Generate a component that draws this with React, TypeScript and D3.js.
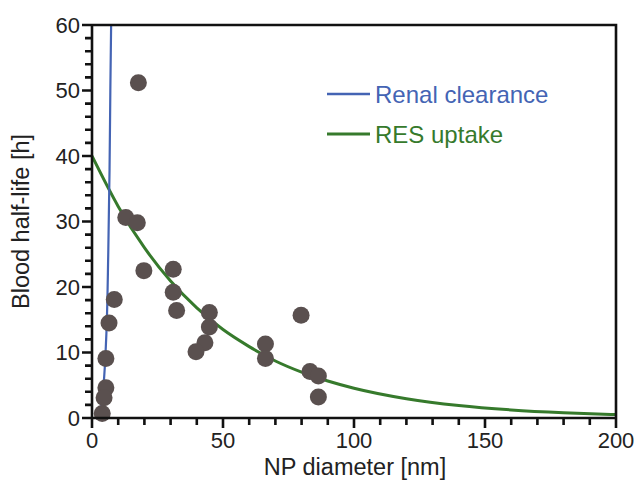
import React from "react";
import * as d3 from "d3";

const diameters = [17.7, 12.9, 17.3, 19.8, 31.0, 31.0, 32.3, 44.8, 44.8, 43.1, 39.7, 66.2, 66.2, 79.8, 83.2, 86.4, 86.4, 8.5, 6.5, 5.3, 5.3, 4.6, 3.9];
const halfLives = [51.2, 30.6, 29.8, 22.5, 22.7, 19.2, 16.4, 16.1, 13.9, 11.5, 10.1, 11.3, 9.1, 15.7, 7.1, 6.4, 3.2, 18.1, 14.5, 9.1, 4.6, 3.1, 0.7];

const resX = [0, 10, 20, 30, 40, 50, 60, 70, 80, 90, 100, 120, 140, 160, 180, 200];
const resY = [40, 32.3, 26.0, 20.9, 16.8, 13.5, 10.9, 8.7, 7.0, 5.65, 4.55, 2.95, 1.9, 1.23, 0.8, 0.52];

const renalX = [3.0, 4.4, 5.4, 6.2, 6.7, 7.0, 7.3];
const renalY = [0, 5, 12, 25, 38, 50, 60];

const xTicks = [0, 50, 100, 150, 200];
const yTicks = [0, 10, 20, 30, 40, 50, 60];
const legendLabels = ["Renal clearance", "RES uptake"];

const W = 637, H = 481;
const L = 92, R = 616, T = 25, B = 418;
const BLUE = "#4464b4";
const GREEN = "#367a2c";
const DOT = "#5a504f";
const FONT = "'Liberation Sans', Arial, sans-serif";

export default function App() {
  const x = d3.scaleLinear().domain([0, 200]).range([L, R]);
  const y = d3.scaleLinear().domain([0, 60]).range([B, T]);
  const line = d3.line<[number, number]>().x(d => x(d[0])).y(d => y(d[1])).curve(d3.curveMonotoneX);
  const renalLine = d3.line<[number, number]>().x(d => x(d[0])).y(d => y(d[1])).curve(d3.curveMonotoneY);
  const resPts: [number, number][] = resX.map((v, i) => [v, resY[i]]);
  const renalPts: [number, number][] = renalX.map((v, i) => [v, renalY[i]]);
  const xMinor = d3.range(0, 201, 10);
  const yMinor = d3.range(0, 61, 2);

  // frame and ticks in one path
  const p = d3.path();
  p.moveTo(L, T); p.lineTo(R, T); p.lineTo(R, B); p.lineTo(L, B); p.closePath();
  yMinor.forEach(v => { p.moveTo(L, y(v)); p.lineTo(L - (v % 10 === 0 ? 10 : 7), y(v)); });
  xMinor.forEach(v => { p.moveTo(x(v), B); p.lineTo(x(v), B + (v % 50 === 0 ? 10 : 7)); });

  return (
    <svg width={W} height={H} style={{ position: "absolute", left: 0, top: 0, background: "#fff" }} fontFamily={FONT}>
      <defs>
        <clipPath id="plot">
          <rect x={L} y={T} width={R - L} height={B - T} />
        </clipPath>
      </defs>
      <g clipPath="url(#plot)">
        <path d={line(resPts) || ""} fill="none" stroke={GREEN} strokeWidth={3} />
        <path d={renalLine(renalPts) || ""} fill="none" stroke={BLUE} strokeWidth={2.2} />
      </g>
      {diameters.map((d, i) => (
        <circle key={i} cx={x(d)} cy={y(halfLives[i])} r={8.5} fill={DOT} />
      ))}
      <path d={p.toString()} fill="none" stroke="#111" strokeWidth={2.6} />
      {yTicks.map(v => (
        <text key={"yt" + v} x={L - 12} y={y(v)} dy="0.36em" textAnchor="end" fontSize={22} fill="#222">{v}</text>
      ))}
      {xTicks.map(v => (
        <text key={"xt" + v} x={x(v)} y={448} textAnchor="middle" fontSize={22} fill="#222">{v}</text>
      ))}
      <text x={355} y={475} textAnchor="middle" fontSize={23.5} fill="#222">NP diameter [nm]</text>
      <text transform={`translate(29,${(T + B) / 2}) rotate(-90)`} textAnchor="middle" fontSize={23.5} fill="#222">Blood half-life [h]</text>
      <line x1={327} x2={370} y1={94} y2={94} stroke={BLUE} strokeWidth={2.5} />
      <text x={375} y={94} dy="0.36em" fontSize={24} fill={BLUE}>{legendLabels[0]}</text>
      <line x1={327} x2={370} y1={134} y2={134} stroke={GREEN} strokeWidth={3} />
      <text x={375} y={134} dy="0.36em" fontSize={24} fill={GREEN}>{legendLabels[1]}</text>
    </svg>
  );
}
